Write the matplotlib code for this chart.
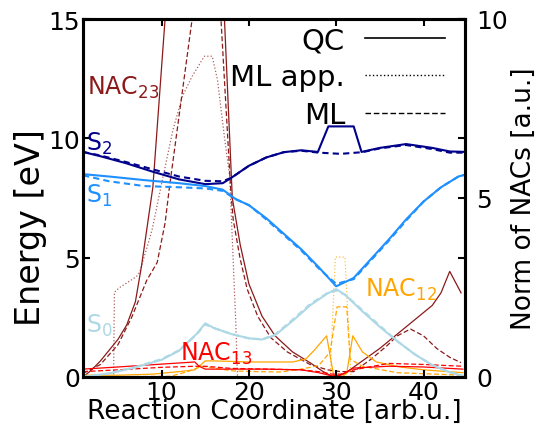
import matplotlib
matplotlib.use("Agg")
import matplotlib.pyplot as plt

# --- energies (left axis, eV) ---
x_s2 = [1, 3, 6, 9, 12, 15, 17, 18, 20, 22, 24, 26, 27.9, 29.1, 32.0, 32.9, 35, 38, 41, 43, 45]
s2_qc = [9.43, 9.25, 8.95, 8.6, 8.28, 8.08, 8.12, 8.35, 8.85, 9.2, 9.42, 9.5, 9.43, 10.5, 10.5, 9.43, 9.6, 9.76, 9.6, 9.45, 9.43]
x_s2_ml = [1, 3, 6, 9, 12, 15, 17, 18, 20, 22, 24, 26, 28, 30.5, 33, 35, 38, 41, 43, 45]
s2_ml = [9.43, 9.28, 9.0, 8.7, 8.4, 8.22, 8.2, 8.35, 8.85, 9.2, 9.42, 9.48, 9.4, 9.35, 9.42, 9.58, 9.72, 9.55, 9.4, 9.4]

x_s1 = [1, 4, 8, 12, 15, 17, 18.5, 20, 22, 24, 26, 28, 30, 32, 34, 36, 38, 40, 42, 44, 45]
s1_qc = [8.5, 8.4, 8.25, 8.12, 8.0, 7.85, 7.45, 7.2, 6.65, 6.0, 5.35, 4.6, 3.8, 4.15, 4.95, 5.75, 6.6, 7.35, 7.95, 8.4, 8.5]
s1_ml = [8.45, 8.2, 8.0, 7.95, 7.9, 7.8, 7.45, 7.2, 6.6, 5.95, 5.3, 4.55, 3.9, 4.1, 4.9, 5.7, 6.55, 7.35, 7.95, 8.4, 8.5]

x_s0 = [1, 4, 7, 10, 12, 14, 15, 16, 18, 20, 21.5, 23, 25, 27, 29, 30, 31, 33, 35, 37, 39, 41, 43, 45]
s0_qc = [0.0, 0.15, 0.4, 0.72, 1.1, 1.8, 2.25, 2.05, 1.8, 1.62, 1.57, 1.75, 2.35, 3.0, 3.5, 3.68, 3.45, 2.75, 2.1, 1.5, 0.95, 0.5, 0.2, 0.0]
s0_ml = [0.0, 0.15, 0.42, 0.75, 1.12, 1.78, 2.2, 2.05, 1.8, 1.62, 1.58, 1.78, 2.4, 3.05, 3.52, 3.62, 3.45, 2.8, 2.15, 1.5, 0.95, 0.5, 0.2, 0.0]

# --- NAC norms (right axis, a.u.) ---
x_n23 = [1, 2, 3, 4, 5, 6, 7, 7.7, 9, 10.4, 12, 14, 15.5, 17.2, 18.1, 19, 20, 21.5, 23, 25, 27, 28.5, 29.7, 31, 33, 35, 37, 39, 41, 42, 43, 44.3]
n23_qc = [0.0, 0.2, 0.45, 0.75, 1.05, 1.45, 2.1, 3.1, 5.3, 10.0, 14.5, 19.0, 19.5, 10.0, 5.0, 3.7, 2.6, 1.7, 1.15, 0.7, 0.4, 0.15, 0.0, 0.1, 0.45, 0.8, 1.2, 1.6, 2.0, 2.35, 2.95, 2.35]
x_n23_ml = [1, 3, 5, 6.6, 8.3, 9.5, 10.4, 10.9, 13.5, 15.2, 16.8, 17.9, 18.2, 19, 19.8, 21, 22.5, 24.4, 27, 29, 30.5, 32, 34, 35.8, 37, 38.5, 40, 41.5, 43, 44.3]
n23_ml = [0.1, 0.35, 0.9, 1.68, 2.7, 3.2, 4.3, 5.3, 10.0, 12.5, 10.0, 5.3, 4.4, 3.3, 2.46, 1.7, 1.1, 0.7, 0.35, 0.2, 0.15, 0.15, 0.5, 0.87, 1.15, 1.34, 1.15, 0.8, 0.55, 0.4]
x_n23_app = [1, 4.5, 4.6, 5.2, 7.1, 7.5, 8.9, 10, 11.3, 12.4, 13.5, 14.9, 15.8, 16.4, 17.2, 17.8, 18.5, 18.7, 45]
n23_app = [0, 0, 2.37, 2.5, 2.8, 2.93, 4.1, 5.4, 6.9, 7.85, 8.4, 8.96, 8.96, 8.3, 6.7, 5.6, 1.5, 0, 0]

x_n12 = [1, 5, 9, 12, 13.8, 14.3, 15, 16, 20, 25, 26.5, 27.5, 28.9, 29.7, 30.6, 31.2, 31.9, 33, 34.6, 37.3, 40, 44.5]
n12_qc = [0.05, 0.05, 0.08, 0.15, 0.2, 0.3, 0.45, 0.45, 0.42, 0.42, 0.5, 0.75, 1.15, 0.05, 0.0, 0.1, 1.15, 0.7, 0.42, 0.28, 0.2, 0.12]
x_n12_ml = [1, 11, 13, 14.6, 16, 18.2, 21, 23.6, 26, 28, 29.3, 30.1, 31.2, 31.6, 33, 37, 44.5]
n12_ml = [0.0, 0.02, 0.15, 0.3, 0.25, 0.17, 0.15, 0.14, 0.22, 0.32, 0.7, 1.96, 1.96, 0.5, 0.3, 0.12, 0.05]
x_n12_app = [1, 29.3, 29.9, 31.0, 31.7, 45]
n12_app = [0, 0, 3.35, 3.35, 0, 0]

x_n13 = [1, 5, 10, 13.8, 14.3, 15, 18, 22, 26, 28, 29.5, 30.5, 32, 36, 40, 44.5]
n13_qc = [0.22, 0.28, 0.36, 0.42, 0.3, 0.22, 0.22, 0.22, 0.2, 0.12, 0.03, 0.05, 0.25, 0.3, 0.28, 0.22]
n13_ml = [0.15, 0.2, 0.27, 0.3, 0.3, 0.3, 0.24, 0.22, 0.2, 0.15, 0.08, 0.08, 0.2, 0.38, 0.35, 0.3]

c_s2, c_s1, c_s0 = 'darkblue', 'dodgerblue', 'lightblue'
c_n23, c_n13, c_n12 = '#8b1a1a', 'red', 'orange'

fig = plt.figure(figsize=(5.37, 4.27), dpi=100)
ax = fig.add_axes([83/537, 1-378/427, (465-83)/537, (378-20)/427])
ax2 = ax.twinx()

# NACs on the right axis
ax2.plot(x_n23, n23_qc, color=c_n23, lw=0.9)
ax2.plot(x_n23_ml, n23_ml, color=c_n23, lw=0.9, ls=(0, (4, 2)))
ax2.plot(x_n23_app, n23_app, color=c_n23, lw=0.9, ls=':', alpha=0.7)
ax2.plot(x_n12, n12_qc, color=c_n12, lw=0.9)
ax2.plot(x_n12_ml, n12_ml, color=c_n12, lw=0.9, ls=(0, (4, 2)))
ax2.plot(x_n12_app, n12_app, color=c_n12, lw=0.9, ls=':', alpha=0.7)
ax2.plot(x_n13, n13_qc, color=c_n13, lw=0.9)
ax2.plot(x_n13, n13_ml, color=c_n13, lw=0.9, ls=(0, (4, 2)))

# energies drawn above the NACs
ax.set_zorder(ax2.get_zorder() + 1)
ax.patch.set_visible(False)
ax.plot(x_s2, s2_qc, color=c_s2, lw=1.5)
ax.plot(x_s2_ml, s2_ml, color=c_s2, lw=1.5, ls=(0, (3, 2)))
ax.plot(x_s1, s1_qc, color=c_s1, lw=1.5)
ax.plot(x_s1, s1_ml, color=c_s1, lw=1.5, ls=(0, (3, 2)))
ax.plot(x_s0, s0_qc, color=c_s0, lw=1.5)
ax.plot(x_s0, s0_ml, color=c_s0, lw=1.5, ls=(0, (3, 2)))

# legend (black sample lines)
h_qc, = ax.plot([], [], color='black', lw=1.2, label='QC')
h_app, = ax.plot([], [], color='black', lw=1.0, ls=':', label='ML app.')
h_ml, = ax.plot([], [], color='black', lw=1.0, ls=(0, (4, 2)), label='ML')
ax.legend(handles=[h_qc, h_app, h_ml], loc='upper right', bbox_to_anchor=(0.948, 0.98),
          frameon=False, markerfirst=False, fontsize=21, handlelength=2.75,
          handletextpad=0.68, labelspacing=0.32, borderpad=0, borderaxespad=0)

# state / coupling labels
ax.text(1.35, 9.8, r'S$_2$', color=c_s2, fontsize=17, va='center')
ax.text(1.35, 7.65, r'S$_1$', color=c_s1, fontsize=17, va='center')
ax.text(1.35, 2.2, r'S$_0$', color=c_s0, fontsize=17, va='center')
ax.text(1.45, 12.15, r'NAC$_{23}$', color=c_n23, fontsize=17, va='center')
ax.text(12.1, 1.0, r'NAC$_{13}$', color=c_n13, fontsize=17, va='center')
ax.text(33.3, 3.69, r'NAC$_{12}$', color=c_n12, fontsize=17, va='center')

ax.set_xlim(1, 44.75)
ax.set_ylim(0, 15)
ax2.set_ylim(0, 10)
ax.set_xticks([10, 20, 30, 40])
ax.set_yticks([0, 5, 10, 15])
ax2.set_yticks([0, 5, 10])
ax.tick_params(direction='in', length=5, width=1.5, labelsize=18, top=True, right=True, pad=2)
ax2.tick_params(direction='in', length=5, width=1.5, labelsize=18, pad=8)
for sp in list(ax.spines.values()) + list(ax2.spines.values()):
    sp.set_linewidth(2.2)

ax.set_xlabel('Reaction Coordinate [arb.u.]', fontsize=19, labelpad=-4)
ax.set_ylabel('Energy [eV]', fontsize=24)
ax.yaxis.set_label_coords(-0.095, 0.42)
ax2.set_ylabel('Norm of NACs [a.u.]', fontsize=19, labelpad=2)

fig.savefig('out.png', dpi=100)
